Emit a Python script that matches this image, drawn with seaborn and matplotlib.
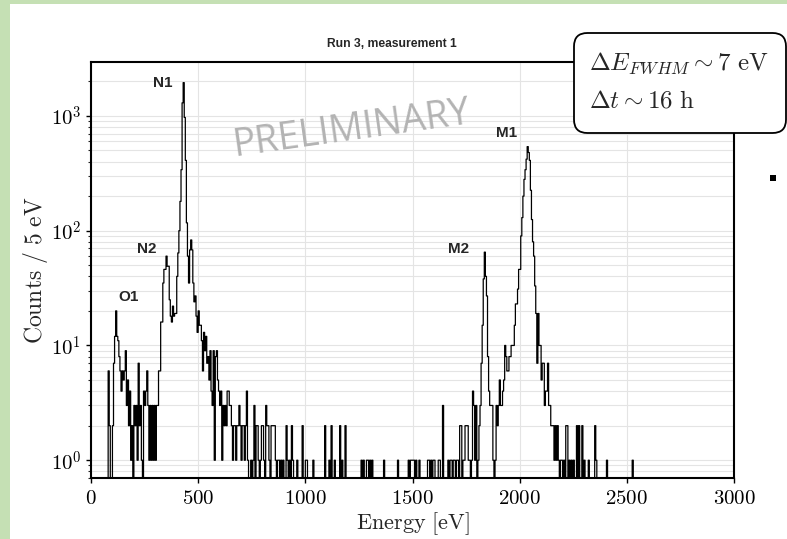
import numpy as np
import pandas as pd
import seaborn as sns
import matplotlib.pyplot as plt
from matplotlib.patches import FancyBboxPatch, Rectangle
from matplotlib.ticker import FixedLocator, FuncFormatter, LogLocator, NullFormatter

sns.set_theme(style='ticks')
plt.rcParams['mathtext.fontset'] = 'cm'

bin_width = 5  # eV
e_max = 3000

# O1, N2, N1 and their tails, one value per 5 eV bin, first bin at 75 eV
low_start = 75
low_counts = [0, 6, 2, 0, 0, 2, 7, 12, 20, 12,            # 75-120
              11, 8, 6, 4, 6, 5, 6, 9, 3, 5,              # 125-170
              2, 4, 1, 2, 0, 3, 2, 3, 1, 7,               # 175-220
              2, 3, 1, 0, 4, 3, 4, 6, 3, 1,               # 225-270
              3, 1, 3, 1, 3, 1, 3, 3, 6, 6,               # 275-320
              16, 16, 35, 46, 46, 60, 49, 49, 25, 18,     # 325-370
              16, 22, 18, 19, 19, 40, 64, 100, 180, 340,  # 375-420
              1300, 1950, 970, 410, 117, 60, 35, 68, 83, 68,  # 425-470
              35, 24, 27, 18, 13, 20, 15, 15, 11, 6,      # 475-520
              13, 9, 12, 7, 8, 5, 9, 4, 3, 9,             # 525-570
              1, 8, 9, 5, 4, 3, 4, 1, 3, 2,               # 575-620
              3, 2, 4, 4, 3, 3, 2, 1, 2, 2,               # 625-670
              1, 2, 2, 3, 2, 1, 2, 2, 1, 2,               # 675-720
              4, 1, 0, 0, 1, 0, 1, 3]                     # 725-760

# scattered counts between the N and M groups
mid_energy = [770, 775, 780, 790, 795, 800, 805, 815, 820, 825, 830, 840, 845,
              850, 855, 860, 870, 875, 885, 895, 910, 915, 925, 935, 940, 960,
              985, 1000, 1005, 1035, 1090, 1110, 1120, 1135, 1160, 1170, 1185,
              1260, 1270, 1285, 1290, 1300, 1310, 1365, 1430, 1480, 1490, 1495,
              1500, 1505, 1515, 1530, 1570, 1575, 1585, 1595, 1600, 1620, 1625,
              1640, 1665, 1675, 1680, 1690, 1695]
mid_counts = [2, 2, 1, 1, 2, 2, 1, 3, 2, 2, 1, 2, 2,
              2, 2, 1, 1, 1, 1, 1, 2, 1, 1, 2, 1, 1,
              2, 1, 1, 1, 2, 1, 2, 1, 2, 1, 2,
              1, 1, 1, 1, 1, 1, 1, 1, 1, 1, 1,
              1, 1, 1, 1, 1, 1, 1, 1, 1, 1, 1,
              3, 1, 1, 1, 1, 1]

# M2 and M1, one value per 5 eV bin, first bin at 1700 eV
high_start = 1700
high_counts = [0, 1, 1, 0, 2, 2, 0, 1, 1, 2,              # 1700-1745
               2, 2, 1, 1, 0, 1, 4, 3, 1, 3,              # 1750-1795
               0, 1, 2, 3, 7, 15, 38, 65, 40, 27,         # 1800-1845
               8, 4, 3, 3, 3, 1, 0, 1, 3, 2,              # 1850-1895
               3, 5, 3, 3, 4, 5, 10, 8, 6, 6,             # 1900-1945
               8, 8, 10, 10, 10, 15, 23, 23, 31, 46,      # 1950-1995
               46, 90, 130, 200, 280, 340, 420, 540, 480, 410,  # 2000-2045
               225, 125, 80, 60, 33, 19, 7, 19, 10, 10,   # 2050-2095
               5, 7, 7, 3, 4, 4, 7, 3, 3, 2,              # 2100-2145
               2, 2, 1, 2, 1, 2, 1, 0, 1, 1,              # 2150-2195
               0, 1, 0, 2, 2, 0, 1, 0, 1, 0,              # 2200-2245
               1, 0, 0, 2, 0, 2]                          # 2250-2275

# tail above M1
tail_energy = [2290, 2300, 2320, 2350, 2355, 2405, 2525]
tail_counts = [2, 1, 1, 2, 1, 1, 1]

peak_names = ['O1', 'N2', 'N1', 'M2', 'M1']
peak_label_e = [175, 261, 335, 1716, 1938]
peak_label_c = [26.6, 69, 1936, 69, 703]

# build the 5 eV histogram
edges = np.arange(0, e_max + bin_width, bin_width)
counts = np.zeros(len(edges) - 1)
i0 = low_start // bin_width
counts[i0:i0 + len(low_counts)] = low_counts
i0 = high_start // bin_width
counts[i0:i0 + len(high_counts)] = high_counts
for e, c in zip(mid_energy + tail_energy, mid_counts + tail_counts):
    counts[e // bin_width] = c

df = pd.DataFrame({'energy': edges[:-1] + bin_width / 2, 'counts': counts})

fig = plt.figure(figsize=(7.87, 5.39), dpi=100)
fig.patch.set_facecolor('white')
ax = fig.add_axes([91 / 787, 1 - 478 / 539, 643 / 787, 416 / 539])

sns.histplot(data=df, x='energy', weights='counts', bins=edges.tolist(), element='step',
             fill=False, color='black', linewidth=0.9, ax=ax)

ax.set_yscale('log')
ax.set_xlim(0, e_max)
ax.set_ylim(0.7, 2950)

ax.xaxis.set_major_locator(FixedLocator(np.arange(0, 3001, 500)))
ax.xaxis.set_major_formatter(FuncFormatter(lambda v, p: '$%d$' % v))
ax.yaxis.set_major_locator(LogLocator(base=10))
ax.yaxis.set_major_formatter(FuncFormatter(lambda v, p: '$10^{%d}$' % round(np.log10(v))))
ax.yaxis.set_minor_locator(LogLocator(base=10, subs=np.arange(2, 10)))
ax.yaxis.set_minor_formatter(NullFormatter())

ax.grid(True, which='both', axis='y', color='#e4e4e4', linewidth=0.8)
ax.grid(True, which='major', axis='x', color='#e4e4e4', linewidth=0.8)
ax.set_axisbelow(True)
ax.tick_params(which='major', direction='out', length=3.5, width=1, labelsize=15, colors='black')
ax.tick_params(which='minor', direction='out', length=2, width=0.8)
for s in ax.spines.values():
    s.set_linewidth(1.5)
    s.set_color('black')

ax.set_xlabel(r'$\mathrm{Energy\ [eV]}$', fontsize=16, labelpad=2)
ax.set_ylabel(r'$\mathrm{Counts\ /\ 5\ eV}$', fontsize=17)
ax.yaxis.set_label_coords(-0.063, 0.5)

for name, e, c in zip(peak_names, peak_label_e, peak_label_c):
    ax.text(e, c, name, ha='center', va='center', fontsize=11, fontweight='bold',
            family='Liberation Sans')

ax.text(0.405, 0.838, 'PRELIMINARY', transform=ax.transAxes, ha='center', va='center',
        rotation=8, rotation_mode='anchor', fontsize=27.3, color='#b3b3b3', family='Open Sans')

fig.text(392 / 787, 1 - 44 / 539, 'Run 3, measurement 1', ha='center', va='center',
         fontsize=8.7, fontweight='bold', family='Liberation Sans')

# info box in the upper right corner
box = FancyBboxPatch((574 / 787, 1 - 133 / 539), 212 / 787, 100 / 539,
                     boxstyle='round,pad=0,rounding_size=0.017', mutation_aspect=787 / 539,
                     transform=fig.transFigure, facecolor='white', edgecolor='black',
                     linewidth=1.3, zorder=5)
fig.patches.append(box)
fig.text(589 / 787, 1 - 63 / 539, r'$\Delta E_{FWHM} \sim 7\ \mathrm{eV}$', ha='left',
         va='center', fontsize=18, zorder=6)
fig.text(589 / 787, 1 - 100 / 539, r'$\Delta t \sim 16\ \mathrm{h}$', ha='left',
         va='center', fontsize=18, zorder=6)

# slide background strips and the stray marker on the right
fig.patches.append(Rectangle((0, 0), 10 / 787, 1, transform=fig.transFigure,
                             facecolor='#c5e0b4', edgecolor='none', zorder=7))
fig.patches.append(Rectangle((0, 1 - 4 / 539), 1, 4 / 539, transform=fig.transFigure,
                             facecolor='#c5e0b4', edgecolor='none', zorder=7))
fig.patches.append(Rectangle((770 / 787, 1 - 181 / 539), 6 / 787, 6 / 539,
                             transform=fig.transFigure, facecolor='black',
                             edgecolor='none', zorder=7))

fig.savefig('out.png', dpi=100)
